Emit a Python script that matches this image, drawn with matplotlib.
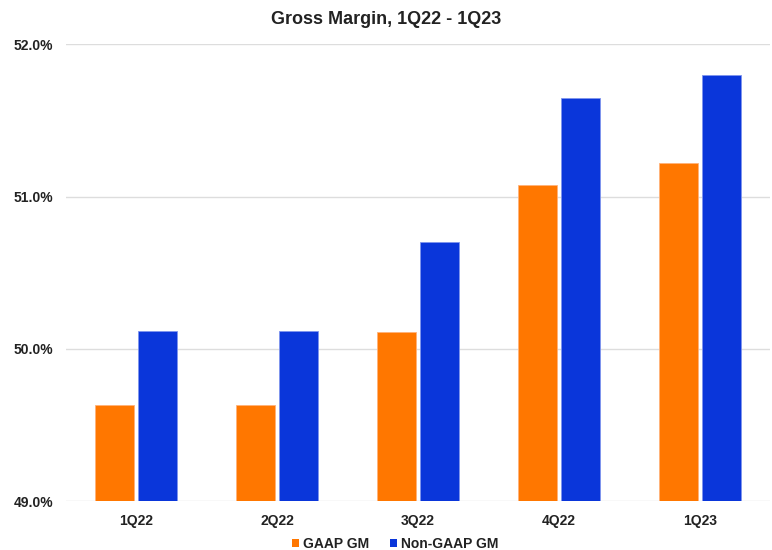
import matplotlib
matplotlib.use("Agg")
import matplotlib.pyplot as plt
import numpy as np
from matplotlib.ticker import FuncFormatter

categories = ["1Q22", "2Q22", "3Q22", "4Q22", "1Q23"]
gaap_gm = [49.63, 49.63, 50.11, 51.08, 51.22]
non_gaap_gm = [50.12, 50.12, 50.70, 51.65, 51.80]
y_ticks = [49.0, 50.0, 51.0, 52.0]

plt.rcParams['font.family'] = ['Liberation Sans', 'DejaVu Sans']

fig = plt.figure(figsize=(7.72, 5.5), dpi=100)
ax = fig.add_axes([65.5 / 772, 1 - 501.3 / 550, (770.2 - 65.5) / 772, (501.3 - 44.4) / 550])

x = np.arange(len(categories))
w = 0.2766
off = 0.1525
orange = "#FF7700"
blue = "#0A36DA"
ax.bar(x - off, [g - 49.0 for g in gaap_gm], w, bottom=49.0, color=orange,
       edgecolor="#ffb27a", linewidth=0.6, zorder=3, label="GAAP GM")
ax.bar(x + off, [n - 49.0 for n in non_gaap_gm], w, bottom=49.0, color=blue,
       edgecolor="#7f95ee", linewidth=0.6, zorder=3, label="Non-GAAP GM")

ax.set_xlim(-0.5, 4.5)
ax.set_ylim(49.0, 52.0)
ax.set_yticks(y_ticks)
ax.yaxis.set_major_formatter(FuncFormatter(lambda v, p: f"{v:.1f}%"))
ax.set_xticks(x)
ax.set_xticklabels(categories)
ax.grid(axis='y', color="#dddddd", linewidth=1.0, zorder=0)
for s in ax.spines.values():
    s.set_visible(False)
ax.tick_params(axis='both', length=0, labelsize=10, labelcolor="#222222")
ax.tick_params(axis='x', pad=9)
ax.tick_params(axis='y', pad=9)
for lab in ax.get_xticklabels() + ax.get_yticklabels():
    lab.set_fontweight('bold')

fig.text(0.5, 1 - 20 / 550, "Gross Margin, 1Q22 - 1Q23", ha='center', va='center',
         fontsize=13, fontweight='bold', color="#222222")

leg = fig.legend(loc='center', bbox_to_anchor=(0.5123, 1 - 544 / 550), ncol=2, frameon=False,
                 handlelength=0.5, handleheight=0.5, handletextpad=0.3, columnspacing=1.5,
                 borderpad=0.0, prop={'size': 10, 'weight': 'bold'})
for t in leg.get_texts():
    t.set_color("#222222")
for h in leg.legend_handles:
    h.set_linewidth(0)

fig.savefig("out.png", dpi=100, facecolor="white")
